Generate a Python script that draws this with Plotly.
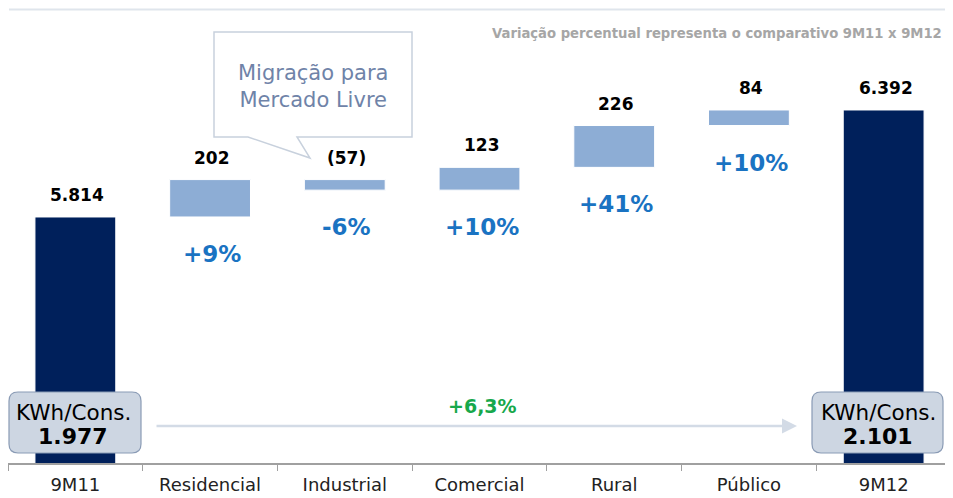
import plotly.graph_objects as go

# ---- data ----
categories = ["9M11", "Residencial", "Industrial", "Comercial", "Rural", "Público", "9M12"]
measures = ["total", "delta", "delta", "delta", "delta", "delta", "total"]
values = [5814, 202, -57, 123, 226, 84, 6392]
value_labels = ["5.814", "202", "(57)", "123", "226", "84", "6.392"]
pct_labels = [None, "+9%", "-6%", "+10%", "+41%", "+10%", None]
kwh_start = "1.977"
kwh_end = "2.101"
kwh_change = "+6,3%"
note_text = "Variação percentual representa o comparativo 9M11 x 9M12"
callout_text = "Migração para<br>Mercado Livre"

# ---- derived bar geometry (from data) ----
bases, heights = [], []
running = 0
for m, v in zip(measures, values):
    if m == "total":
        bases.append(0)
        heights.append(v)
        running = v
    else:
        lo = running if v >= 0 else running + v
        bases.append(lo)
        heights.append(abs(v))
        running += v

NAVY = "#00205B"
LIGHT = "#8DADD5"
colors = [NAVY if m == "total" else LIGHT for m in measures]

FONT = "DejaVu Sans"
OFF = 8                      # page body margin
W, H = 953 - OFF, 498 - OFF
L, R, T, B = 0, 2, 42, 35
YMIN, YMAX = 4485, 6716

fig = go.Figure()
fig.add_trace(go.Bar(
    x=categories, y=heights, base=bases,
    marker=dict(color=colors, line=dict(color="white", width=1)),
    width=0.6, hoverinfo="skip",
))

pw = W - L - R
ph = H - T - B

def px(x):  # page pixel -> paper
    return (x - OFF - L) / pw

def py(y):
    return (H - B - (y - OFF)) / ph

ann = []
for i, c in enumerate(categories):
    top = bases[i] + heights[i]
    bot = bases[i]
    ann.append(dict(x=c, y=top, xref="x", yref="y", text="<b>%s</b>" % value_labels[i],
                    showarrow=False, xanchor="center", yanchor="middle", yshift=22, xshift=2,
                    font=dict(family=FONT, size=17, color="#000000")))
    if pct_labels[i]:
        ann.append(dict(x=c, y=bot, xref="x", yref="y", text="<b>%s</b>" % pct_labels[i],
                        showarrow=False, xanchor="center", yanchor="middle", yshift=-37, xshift=2,
                        font=dict(family=FONT, size=23, color="#1A73C2")))

# top-right note
ann.append(dict(x=px(944), y=py(33), xref="paper", yref="paper", text="<b>%s</b>" % note_text,
                showarrow=False, xanchor="right", yanchor="middle",
                font=dict(family=FONT, size=13.2, color="#A6A6A6")))

# callout text
ann.append(dict(x=px(313), y=py(86), xref="paper", yref="paper", text=callout_text,
                showarrow=False, xanchor="center", yanchor="middle",
                font=dict(family=FONT, size=21, color="#6F83A8")))

# arrow
ann.append(dict(x=px(797), y=py(426), xref="paper", yref="paper", ax=-642, ay=0,
                text="", showarrow=True, arrowhead=2, arrowsize=1.2, arrowwidth=2.5,
                arrowcolor="#D3DBE6", standoff=0))
ann.append(dict(x=px(482), y=py(406), xref="paper", yref="paper", text="<b>%s</b>" % kwh_change,
                showarrow=False, xanchor="center", yanchor="middle",
                font=dict(family=FONT, size=19, color="#17A84B")))

# KWh boxes
def rounded(x0, y0, x1, y1, r):
    pts = [
        ("M", [(x0 + r, y0)]), ("L", [(x1 - r, y0)]), ("Q", [(x1, y0), (x1, y0 + r)]),
        ("L", [(x1, y1 - r)]), ("Q", [(x1, y1), (x1 - r, y1)]), ("L", [(x0 + r, y1)]),
        ("Q", [(x0, y1), (x0, y1 - r)]), ("L", [(x0, y0 + r)]), ("Q", [(x0, y0), (x0 + r, y0)]),
    ]
    s = ""
    for cmd, ps in pts:
        s += cmd + " " + " ".join("%.5f,%.5f" % (px(a), py(b)) for a, b in ps) + " "
    return s + "Z"

shapes = []
for (x0, x1, cx, val) in [(9, 141, 73, kwh_start), (812, 943, 878, kwh_end)]:
    shapes.append(dict(type="path", xref="paper", yref="paper", path=rounded(x0, 392, x1, 453, 9),
                       fillcolor="#CDD6E2", line=dict(color="#8A9BB5", width=1.2), layer="above"))
    ann.append(dict(x=px(cx), y=py(412), xref="paper", yref="paper", text="KWh/Cons.",
                    showarrow=False, xanchor="center", yanchor="middle",
                    font=dict(family=FONT, size=21.5, color="#000000")))
    ann.append(dict(x=px(cx), y=py(436), xref="paper", yref="paper", text="<b>%s</b>" % val,
                    showarrow=False, xanchor="center", yanchor="middle",
                    font=dict(family=FONT, size=22, color="#000000")))

# callout shape
cpts = [(214, 32), (412, 32), (412, 137), (297, 137), (310, 158), (248, 137), (214, 137)]
cpath = "M " + " L ".join("%.5f,%.5f" % (px(a), py(b)) for a, b in cpts) + " Z"
shapes.append(dict(type="path", xref="paper", yref="paper", path=cpath,
                   fillcolor="white", line=dict(color="#C8D1DD", width=1.5), layer="above"))

# top rule
shapes.append(dict(type="line", xref="paper", yref="paper", x0=px(9), x1=px(950), y0=py(9.5), y1=py(9.5),
                   line=dict(color="#DFE5EC", width=2)))

fig.update_layout(
    width=W, height=H, margin=dict(l=L, r=R, t=T, b=B),
    paper_bgcolor="white", plot_bgcolor="white",
    showlegend=False, bargap=0.4,
    annotations=ann, shapes=shapes,
    xaxis=dict(type="category", tickson="boundaries", ticks="outside", ticklen=6,
               tickcolor="#A0A0A0", showline=True, linecolor="#A0A0A0", linewidth=1.5,
               showgrid=False, ticklabelstandoff=5, automargin=False,
               tickfont=dict(family=FONT, size=18, color="#222222")),
    yaxis=dict(range=[YMIN, YMAX], visible=False, showgrid=False, zeroline=False),
)

fig.write_html("out.html")
